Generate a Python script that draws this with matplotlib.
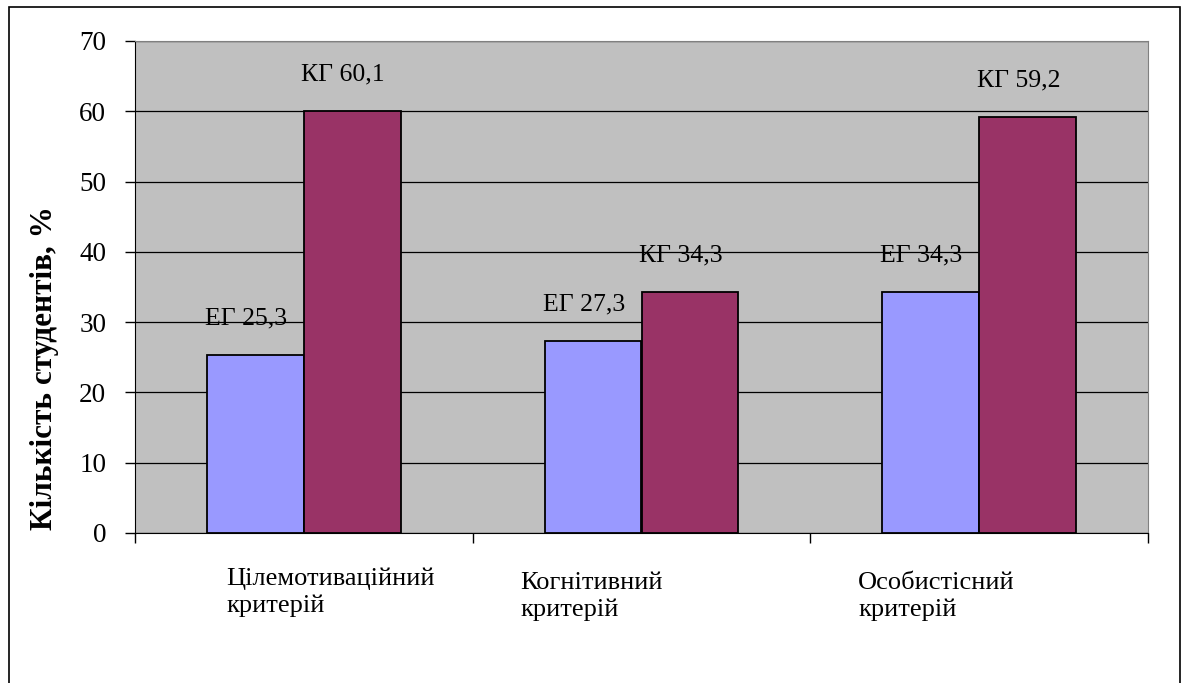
import matplotlib
matplotlib.use("Agg")
import matplotlib.pyplot as plt
from matplotlib.patches import Rectangle
import numpy as np

# дані
criteria = ["Цілемотиваційний\nкритерій", "Когнітивний\nкритерій", "Особистісний\nкритерій"]
eg_values = [25.3, 27.3, 34.3]
kg_values = [60.1, 34.3, 59.2]
eg_labels = ["ЕГ 25,3", "ЕГ 27,3", "ЕГ 34,3"]
kg_labels = ["КГ 60,1", "КГ 34,3", "КГ 59,2"]
y_ticks = [0, 10, 20, 30, 40, 50, 60, 70]

plt.rcParams['font.family'] = ['Liberation Serif', 'DejaVu Serif']

W, H = 1187, 683
fig = plt.figure(figsize=(W / 100, H / 100), dpi=100)
ax = fig.add_axes([135 / W, 1 - 533 / H, (1148 - 135) / W, (533 - 41) / H])

# рамка навколо всієї діаграми (низ за межами картинки)
fig.patches.append(Rectangle((9 / W, -0.05), (1180 - 9) / W, 1.05 - 7 / H,
                             transform=fig.transFigure, fill=False, edgecolor='black', lw=1.2))

x = np.arange(len(criteria))
w = 0.287
ax.set_facecolor('#C0C0C0')
ax.bar(x - w / 2, eg_values, w, color='#9999FF', edgecolor='black', lw=1.3, zorder=3)
ax.bar(x + w / 2, kg_values, w, color='#993366', edgecolor='black', lw=1.3, zorder=3)

for i in range(len(criteria)):
    ax.text(x[i] - w / 2 - 0.027, eg_values[i] + 5.2, eg_labels[i], ha='center', va='center', fontsize=18.5)
    ax.text(x[i] + w / 2 - 0.027, kg_values[i] + 5.2, kg_labels[i], ha='center', va='center', fontsize=18.5)

ax.set_ylim(0, 70)
ax.set_xlim(-0.5, len(criteria) - 0.5)
ax.set_yticks(y_ticks)
ax.set_yticklabels([str(t) for t in y_ticks], fontsize=19.5)
ax.yaxis.grid(True, color='black', lw=0.9)
ax.set_axisbelow(True)
ax.tick_params(axis='y', length=7.2, width=1, pad=13.5, direction='out')

# поділки між категоріями
ax.set_xticks(np.arange(len(criteria) + 1) - 0.5)
ax.set_xticklabels([])
ax.tick_params(axis='x', length=7.2, width=1, direction='out')

ax.spines['top'].set_color('#808080')
ax.spines['right'].set_color('#808080')
ax.spines['left'].set_color('black')
ax.spines['bottom'].set_color('black')

label_left = [226, 520, 858]
label_top = [567, 572, 572]
for i, name in enumerate(criteria):
    fig.text(label_left[i] / W, 1 - label_top[i] / H, name,
             ha='left', va='top', fontsize=19, linespacing=1.28)

fig.text(45 / W, 1 - 368 / H, "Кількість студентів, %", rotation=90,
         ha='center', va='center', fontsize=22.5, fontweight='bold')

fig.savefig("out.png", dpi=100)
